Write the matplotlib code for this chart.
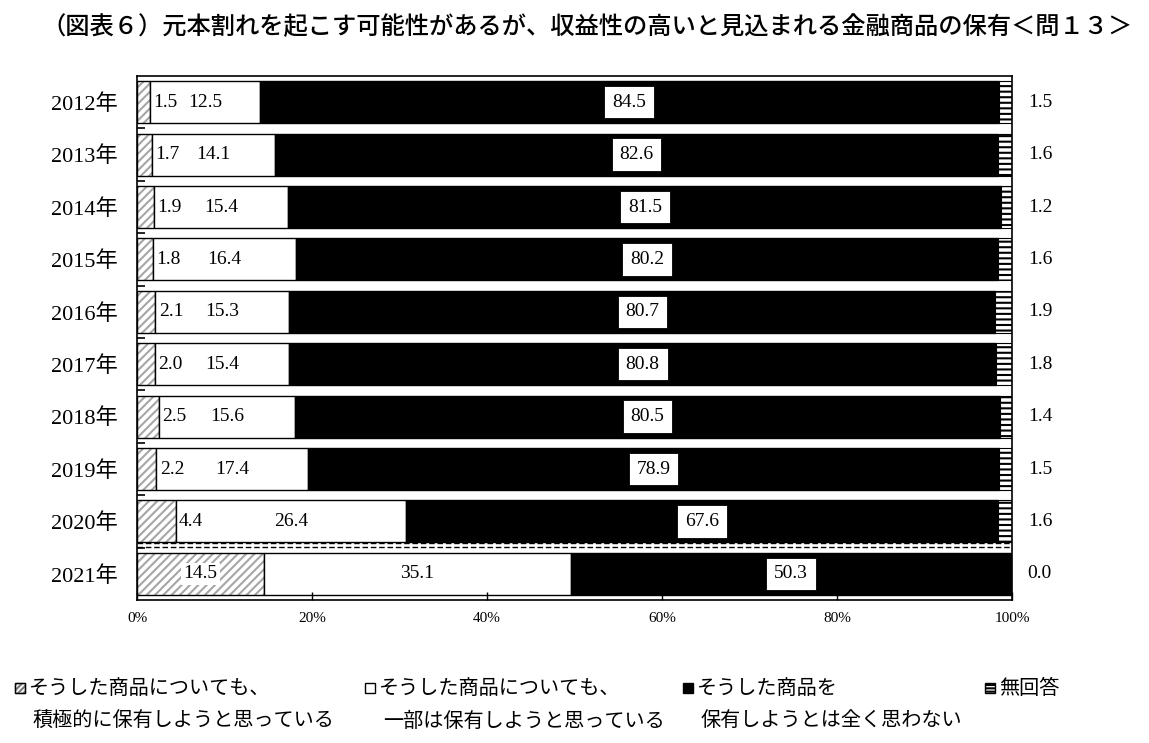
import numpy as np
import matplotlib
matplotlib.use("Agg")
import matplotlib.pyplot as plt
from matplotlib.patches import Rectangle

plt.rcParams['font.family'] = ['Liberation Serif', 'Noto Sans CJK JP']
plt.rcParams['hatch.linewidth'] = 1.5

title = "（図表６）元本割れを起こす可能性があるが、収益性の高いと見込まれる金融商品の保有＜問１３＞"
years = ["2012年", "2013年", "2014年", "2015年", "2016年",
         "2017年", "2018年", "2019年", "2020年", "2021年"]
active = [1.5, 1.7, 1.9, 1.8, 2.1, 2.0, 2.5, 2.2, 4.4, 14.5]
partial = [12.5, 14.1, 15.4, 16.4, 15.3, 15.4, 15.6, 17.4, 26.4, 35.1]
never = [84.5, 82.6, 81.5, 80.2, 80.7, 80.8, 80.5, 78.9, 67.6, 50.3]
noans = [1.5, 1.6, 1.2, 1.6, 1.9, 1.8, 1.4, 1.5, 1.6, 0.0]
legend_lines = [
    ("そうした商品についても、", "積極的に保有しようと思っている"),
    ("そうした商品についても、", "一部は保有しようと思っている"),
    ("そうした商品を", "保有しようとは全く思わない"),
    ("無回答", ""),
]

active = np.array(active)
partial = np.array(partial)
never = np.array(never)
noans = np.array(noans)
y = np.arange(len(years))
h = 0.8
jp = ['Noto Sans CJK JP']

fig = plt.figure(figsize=(11.49, 7.43), dpi=100)
ax = fig.add_axes([137 / 1149, 143 / 743, 875 / 1149, 524 / 743])

# segment 1: grey diagonal hatch, black outline on top
ax.barh(y, active, height=h, color='white', edgecolor='#a6a6a6', hatch='////', linewidth=0)
ax.barh(y, active, height=h, fill=False, edgecolor='black', linewidth=1)
ax.barh(y, partial, left=active, height=h, color='white', edgecolor='black', linewidth=1)
ax.barh(y, never, left=active + partial, height=h, color='black', edgecolor='black', linewidth=1)
ax.barh(y, noans, left=active + partial + never, height=h, color='white',
        edgecolor='black', hatch='---', linewidth=0.8)

ax.set_xlim(0, 100)
ax.set_ylim(len(years) - 0.5, -0.5)

# dashed separator before 2021
for yy in (8.41, 8.49):
    ax.axhline(yy, color='black', linestyle='--', linewidth=1, dashes=(4, 2))

num_fs = 14
for i in range(len(years)):
    a, p, n, r = active[i], partial[i], never[i], noans[i]
    if a > 10:
        ax.text(a / 2, i, f"{a:.1f}", ha='center', va='center', fontsize=num_fs,
                bbox=dict(facecolor='white', edgecolor='none', pad=2))
    else:
        ax.text(a + 0.4, i, f"{a:.1f}", ha='left', va='center', fontsize=num_fs,
                bbox=dict(facecolor='white', edgecolor='none', pad=0.5))
    ax.text(a + p / 2, i, f"{p:.1f}", ha='center', va='center', fontsize=num_fs)
    ax.text(a + p + n / 2, i, f"{n:.1f}", ha='center', va='center', fontsize=num_fs,
            bbox=dict(facecolor='white', edgecolor='black', linewidth=0.6,
                      boxstyle='square,pad=0.4'))
    ax.text(101.8, i, f"{r:.1f}", ha='left', va='center', fontsize=num_fs, clip_on=False)

ax.set_yticks(y)
ax.set_yticklabels(years, fontsize=16)
ax.tick_params(axis='y', length=0, pad=14)
ax.set_yticks(np.arange(len(years) - 1) + 0.5, minor=True)
ax.tick_params(axis='y', which='minor', direction='in', length=6, width=1.2, left=True)

ax.set_xticks([0, 20, 40, 60, 80, 100])
ax.set_xticklabels(["0%", "20%", "40%", "60%", "80%", "100%"], fontsize=11)
ax.tick_params(axis='x', direction='in', length=6, width=1, pad=9)

for s in ax.spines.values():
    s.set_linewidth(1.2)
    s.set_color('black')

fig.text(0.511, 0.963, title, ha='center', va='center', fontsize=17.5,
         family=jp, fontweight='medium')

# legend drawn by hand
legend_x = [15, 365, 683, 985]
styles = [
    dict(facecolor='white', edgecolor='#777777', hatch='//////'),
    dict(facecolor='white', edgecolor='black'),
    dict(facecolor='black', edgecolor='black'),
    dict(facecolor='white', edgecolor='black', hatch='-----'),
]
for (l1, l2), lx, st in zip(legend_lines, legend_x, styles):
    sq = Rectangle((lx / 1149, (743 - 693) / 743), 10 / 1149, 10 / 743,
                   transform=fig.transFigure, linewidth=1, **st)
    fig.add_artist(sq)
    if st.get('hatch') == '//////':
        fig.add_artist(Rectangle((lx / 1149, (743 - 693) / 743), 10 / 1149, 10 / 743,
                                 transform=fig.transFigure, fill=False,
                                 edgecolor='black', linewidth=1))
    fig.text((lx + 14) / 1149, (743 - 688) / 743, l1, ha='left', va='center',
             fontsize=14.5, family=jp)
    if l2:
        fig.text((lx + 18) / 1149, (743 - 721) / 743, l2, ha='left', va='center',
                 fontsize=14.5, family=jp)

fig.savefig("out.png", dpi=100)
